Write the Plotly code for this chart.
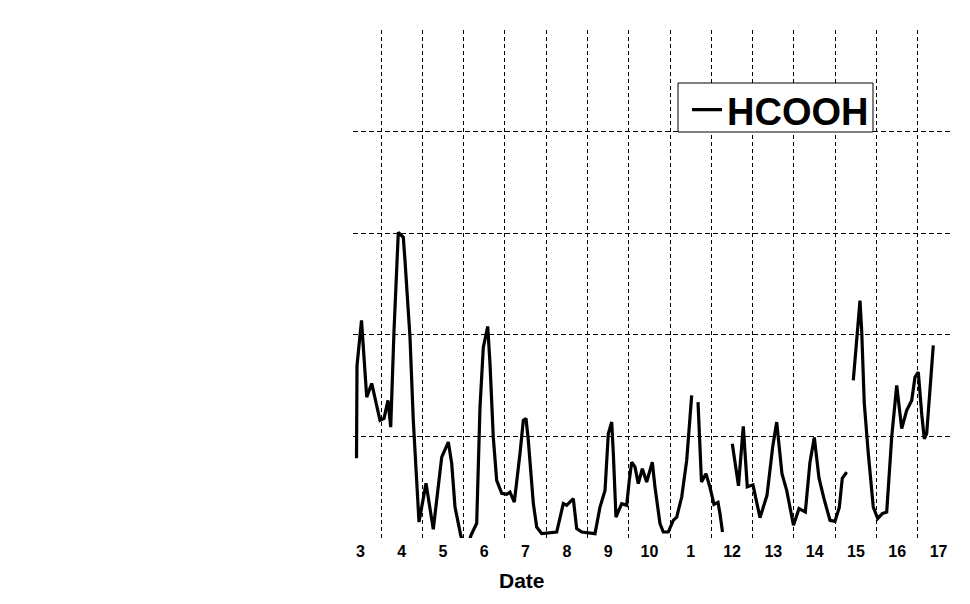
import plotly.graph_objects as go

# Time in fractional days (day-of-month), HCOOH concentration (axis units)
days = [3.407, 3.419, 3.528, 3.654, 3.775, 3.976, 4.073, 4.169, 4.235, 4.315, 4.419, 4.540, 4.581,
        4.702, 4.782, 4.920, 5.090, 5.266, 5.470, 5.630, 5.712, 5.792, 5.930, 6.055,
        6.179, 6.317, 6.397, 6.477, 6.584, 6.639, 6.719, 6.801, 6.923, 7.044, 7.123, 7.228,
        7.366, 7.446, 7.511, 7.567, 7.688, 7.770, 7.891, 8.012, 8.254, 8.414, 8.496, 8.656,
        8.738, 8.860, 9.182, 9.303, 9.424, 9.504, 9.586, 9.625, 9.690, 9.828, 9.949, 10.012,
        10.070, 10.150, 10.230, 10.327, 10.433, 10.569, 10.634, 10.755, 10.835, 10.956,
        11.077, 11.160, 11.281, 11.402, 11.482, 11.523, 11.600,
        11.676, 11.760, 11.869, 11.966, 12.063, 12.160, 12.208, 12.269, 12.390,
        12.506, 12.656, 12.772, 12.869, 13.007, 13.177, 13.346, 13.484, 13.581, 13.709,
        13.823, 13.988, 14.121, 14.274, 14.387, 14.492, 14.605, 14.726, 14.872, 14.993,
        15.097, 15.169, 15.276, 15.356,
        15.436, 15.557, 15.598, 15.639, 15.702, 15.799, 15.920, 16.027, 16.138, 16.245,
        16.366, 16.487, 16.608, 16.729, 16.850, 16.930, 17.010, 17.092, 17.155, 17.213, 17.373]

hcooh = [0.784, 1.698, 2.141, 1.386, 1.521, 1.157, 1.177, 1.354, 1.091, 2.040, 3.009, 2.960, 2.731,
         1.976, 1.157, 0.157, 0.538, 0.086, 0.796, 0.944, 0.735, 0.305, 0.027, -0.150,
         0.027, 0.145, 1.285, 1.875, 2.082, 1.718, 0.990, 0.567, 0.440, 0.430, 0.452, 0.354,
         0.833, 1.157, 1.177, 0.961, 0.341, 0.108, 0.043, 0.049, 0.059, 0.338, 0.322, 0.387,
         0.092, 0.059, 0.043, 0.305, 0.469, 1.027, 1.141, 0.833, 0.206, 0.338, 0.322, 0.567,
         0.747, 0.700, 0.535, 0.682, 0.551, 0.747, 0.501, 0.142, 0.059, 0.059,
         0.174, 0.206, 0.403, 0.764, 1.157, 1.403, None,
         1.337, 0.551, 0.633, 0.499, 0.331, 0.351, 0.240, 0.059, None,
         0.928, 0.513, 1.098, 0.503, 0.523, 0.199, 0.420, 0.895, 1.141, 0.633,
         0.469, 0.125, 0.289, 0.256, 0.747, 0.990, 0.592, 0.387, 0.174, 0.164,
         0.302, 0.587, 0.649, None,
         1.551, 2.141, 2.337, 2.042, 1.324, 0.833, 0.305, 0.191, 0.240, 0.256,
         0.993, 1.501, 1.076, 1.256, 1.354, 1.583, 1.632, 1.223, 0.977, 1.027, 1.895]

tick_days = [3, 4, 5, 6, 7, 8, 9, 10, 11, 12, 13, 14, 15, 16, 17]
tick_labels = ["3", "4", "5", "6", "7", "8", "9", "10", "1", "12", "13", "14", "15", "16", "17"]
midnights = [4, 5, 6, 7, 8, 9, 10, 11, 12, 13, 14, 15, 16, 17]
y_grid = [1, 2, 3, 4]

FONT = "Liberation Sans, Arial, sans-serif"

fig = go.Figure()
fig.add_trace(go.Scatter(
    x=days, y=hcooh, mode="lines", name="HCOOH",
    line=dict(color="black", width=3.2), connectgaps=False,
))

fig.update_layout(
    width=962, height=588,
    margin=dict(l=345, r=18, t=22, b=58),
    paper_bgcolor="white", plot_bgcolor="white",
    font=dict(family=FONT, color="black"),
    showlegend=True,
    legend=dict(
        x=0.5576, y=0.8425, xanchor="left", yanchor="middle",
        bgcolor="rgba(0,0,0,0)", borderwidth=0,
        font=dict(family=FONT, size=38, color="black", weight="bold"),
        itemwidth=30,
    ),
    xaxis=dict(
        range=[3.322, 17.826],
        tickmode="array",
        tickvals=[d + 0.5 for d in tick_days],
        ticktext=tick_labels,
        showgrid=False, zeroline=False, showline=False, ticks="",
        ticklabelstandoff=2,
        tickfont=dict(family=FONT, size=16, color="black", weight="bold"),
        minor=dict(tickvals=midnights, showgrid=True, gridcolor="black",
                   gridwidth=1, griddash="4px,3px", ticks=""),
    ),
    yaxis=dict(
        range=[0, 5],
        tickmode="array", tickvals=y_grid,
        showticklabels=False, showgrid=True, gridcolor="black",
        gridwidth=1, griddash="5px,3px",
        zeroline=False, showline=False, ticks="",
    ),
    shapes=[dict(
        type="rect", xref="paper", yref="paper",
        x0=0.5426, x1=0.8681, y0=0.7992, y1=0.8957,
        line=dict(color="black", width=1), fillcolor="white", opacity=1, layer="above",
    )],
    annotations=[dict(
        text="Date", xref="paper", yref="paper",
        x=(514 - 345) / 599, y=0, yshift=-42, xanchor="center", yanchor="middle",
        showarrow=False, font=dict(family=FONT, size=21, color="black", weight="bold"),
    )],
)

fig.write_html("out.html")
